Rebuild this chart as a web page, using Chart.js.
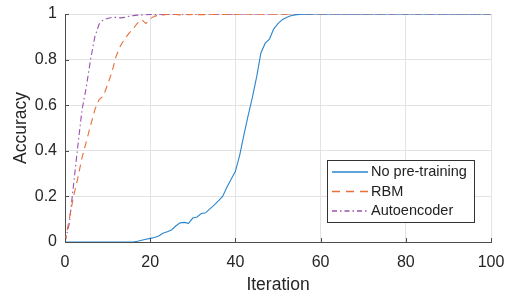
<!DOCTYPE html>
<html>
<head>
<meta charset="utf-8">
<script src="https://cdn.jsdelivr.net/npm/chart.js@4/dist/chart.umd.min.js"></script>
<style>
html,body{margin:0;padding:0;background:#fff;}
#c{display:block;}
</style>
</head>
<body>
<canvas id="c" width="508" height="295"></canvas>
<script>
// ---- data ----
const seriesNames = ["No pre-training", "RBM", "Autoencoder"];
const xTicks = [0, 20, 40, 60, 80, 100];
const yTicks = [0, 0.2, 0.4, 0.6, 0.8, 1];
const yTickLabels = ["0", "0.2", "0.4", "0.6", "0.8", "1"];

const noPretraining = [
  0,0,0,0,0,0,0,0,0,0,0,0,0,0,0,0,0,
  0.003,0.008,0.012,0.016,0.02,0.026,0.038,0.045,0.053,0.07,0.084,0.086,0.082,0.105,
  0.11,0.125,0.128,0.145,0.162,0.18,0.2,0.24,0.275,0.31,0.38,0.47,0.555,0.635,0.725,
  0.83,0.872,0.89,0.935,0.958,0.975,0.985,0.992,0.996,0.998,0.999,0.999,
  1,1,1,1,1,1,1,1,1,1,1,1,1,1,1,1,1,1,1,1,1,1,1,1,1,1,1,1,1,1,1,1,1,1,1,1,1,1,1,1,1,1,1
];
const rbm = [
  0,0.1,0.2,0.28,0.37,0.44,0.51,0.58,0.625,0.64,0.69,0.745,0.815,0.86,0.89,0.915,0.935,
  0.96,0.975,0.958,0.98,0.99,0.995,0.996,0.998,0.997,0.998,0.996,0.998,0.997,0.998,
  0.997,0.998,0.997,0.999,0.998,0.998,0.999,0.998,0.999,0.998,
  0.999,0.999,0.999,0.999,0.999,0.999,0.999,0.999,0.999,0.999,0.999,0.999,0.999,0.999,0.999,0.999,0.999,0.999,0.999,0.999,
  1,1,1,1,1,1,1,1,1,1,1,1,1,1,1,1,1,1,1,1,1,1,1,1,1,1,1,1,1,1,1,1,1,1,1,1,1,1,1,1
];
const autoencoder = [
  0,0.08,0.25,0.42,0.58,0.68,0.8,0.9,0.955,0.975,0.98,0.985,0.985,0.983,0.985,0.99,
  0.993,0.995,0.996,0.997,0.998,0.998,0.999,0.998,0.999,0.998,0.999,0.999,0.998,0.999,0.999,
  0.999,0.999,0.999,0.999,0.999,0.999,0.999,0.999,0.999,0.999,
  1,1,1,1,1,1,1,1,1,1,1,1,1,1,1,1,1,1,1,1,1,1,1,1,1,1,1,1,1,1,1,1,1,1,1,1,1,1,1,1,
  1,1,1,1,1,1,1,1,1,1,1,1,1,1,1,1,1,1,1,1
];

const colors = ["#2a86cf", "#e86f38", "#9a52ae"];
const dashes = [[], [7, 5], [6, 3, 1.5, 3]];

function toPoints(arr){ return arr.map((v,i)=>({x:i, y:v})); }

const FONT = "'Liberation Sans', Arial, Helvetica, sans-serif";

// inward ticks + legend
const extras = {
  id: 'extras',
  afterDraw(chart){
    const ctx = chart.ctx;
    const xs = chart.scales.x, ys = chart.scales.y;
    const a = chart.chartArea;
    ctx.save();
    ctx.strokeStyle = '#4d4d4d';
    ctx.lineWidth = 1;
    ctx.beginPath();
    xTicks.forEach(t=>{
      const px = Math.round(xs.getPixelForValue(t)) + 0.5;
      ctx.moveTo(px, a.bottom); ctx.lineTo(px, a.bottom - 4);
    });
    yTicks.forEach(t=>{
      const py = Math.round(ys.getPixelForValue(t)) + 0.5;
      ctx.moveTo(a.left, py); ctx.lineTo(a.left + 4, py);
    });
    ctx.stroke();

    // legend
    const bx = 327.5, by = 160.5, bw = 147, bh = 62;
    ctx.fillStyle = '#fff';
    ctx.fillRect(bx, by, bw, bh);
    ctx.strokeStyle = '#333';
    ctx.lineWidth = 1;
    ctx.strokeRect(bx, by, bw, bh);
    ctx.font = "14.5px " + FONT;
    ctx.textBaseline = 'middle';
    const rows = [172, 191.5, 211];
    const legDash = [[], [8, 6], [5, 3, 1.5, 3]];
    chart.data.datasets.forEach((ds, i)=>{
      ctx.beginPath();
      ctx.strokeStyle = ds.borderColor;
      ctx.lineWidth = 1.4;
      ctx.setLineDash(legDash[i]);
      ctx.moveTo(332, rows[i]); ctx.lineTo(368, rows[i]);
      ctx.stroke();
      ctx.setLineDash([]);
      ctx.fillStyle = '#222';
      ctx.fillText(ds.label, 371, rows[i]);
    });
    ctx.restore();
  }
};

new Chart(document.getElementById('c'), {
  type: 'line',
  data: {
    datasets: [
      {label: seriesNames[0], data: toPoints(noPretraining), borderColor: colors[0], borderWidth: 1.1, borderDash: dashes[0]},
      {label: seriesNames[1], data: toPoints(rbm), borderColor: colors[1], borderWidth: 1.1, borderDash: dashes[1]},
      {label: seriesNames[2], data: toPoints(autoencoder), borderColor: colors[2], borderWidth: 1.1, borderDash: dashes[2]}
    ]
  },
  options: {
    responsive: false,
    devicePixelRatio: 1,
    animation: false,
    events: [],
    elements: { point: { radius: 0 }, line: { tension: 0, fill: false } },
    layout: { padding: { top: 14, right: 17, left: 0, bottom: 0 } },
    plugins: { legend: { display: false }, tooltip: { enabled: false } },
    scales: {
      x: {
        type: 'linear', min: 0, max: 100,
        afterFit(s){ s.height = 53; s.paddingLeft = 0; s.paddingRight = 0; },
        afterBuildTicks(s){ s.ticks = xTicks.map(v=>({value:v})); },
        grid: { color: '#e3e3e3', drawTicks: false },
        border: { color: '#4d4d4d', width: 1 },
        ticks: { color: '#262626', font: { family: FONT, size: 16 }, padding: 11, maxRotation: 0 },
        title: { display: true, text: 'Iteration', color: '#262626', font: { family: FONT, size: 17.5 }, padding: { top: 0, bottom: -1 } }
      },
      y: {
        type: 'linear', min: 0, max: 1,
        afterFit(s){ s.width = 65; s.paddingTop = 0; s.paddingBottom = 0; },
        afterBuildTicks(s){ s.ticks = yTicks.map(v=>({value:v})); },
        grid: { color: '#e3e3e3', drawTicks: false },
        border: { color: '#4d4d4d', width: 1 },
        ticks: { color: '#262626', font: { family: FONT, size: 16 }, padding: 8,
          callback(v){ const i = yTicks.findIndex(t=>Math.abs(t-v)<1e-9); return i>=0 ? yTickLabels[i] : ''; } },
        title: { display: true, text: 'Accuracy', color: '#262626', font: { family: FONT, size: 17.5 }, padding: { top: 11, bottom: 0 } }
      }
    }
  },
  plugins: [extras]
});
</script>
</body>
</html>
